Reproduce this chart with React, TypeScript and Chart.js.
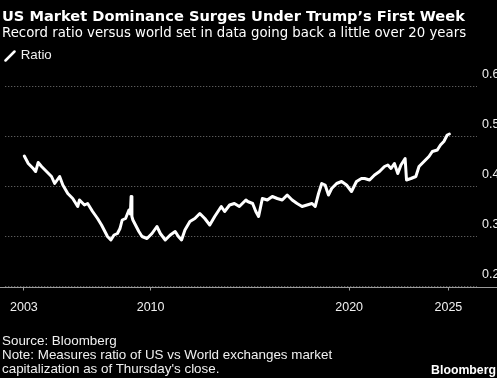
import React, { useEffect, useRef } from "react";
import { Chart, registerables } from "chart.js";

Chart.register(...registerables);

// Decimal-year dates and US/World market-cap ratio
const dates: number[] = [
  2003.64, 2003.84, 2004.09, 2004.21, 2004.34, 2004.51, 2004.76, 2005.01, 2005.17, 2005.42,
  2005.58, 2005.83, 2006.08, 2006.33, 2006.42, 2006.67, 2006.83, 2007.08, 2007.33, 2007.53,
  2007.66, 2007.83, 2008.0, 2008.16, 2008.33, 2008.46, 2008.57, 2008.74, 2008.91, 2008.98,
  2009.02, 2009.06, 2009.11, 2009.24, 2009.41, 2009.57, 2009.82, 2010.07, 2010.32, 2010.49,
  2010.74, 2010.99, 2011.24, 2011.4, 2011.56, 2011.73, 2011.98, 2012.23, 2012.48, 2012.73,
  2012.98, 2013.23, 2013.56, 2013.73, 2013.98, 2014.22, 2014.47, 2014.8, 2014.89, 2015.14,
  2015.3, 2015.44, 2015.63, 2015.88, 2016.13, 2016.38, 2016.63, 2016.88, 2017.13, 2017.38,
  2017.63, 2017.88, 2018.13, 2018.29, 2018.46, 2018.62, 2018.79, 2018.96, 2019.12, 2019.37,
  2019.62, 2019.87, 2020.12, 2020.37, 2020.62, 2020.78, 2021.03, 2021.28, 2021.53, 2021.78,
  2021.95, 2022.11, 2022.28, 2022.45, 2022.61, 2022.82, 2022.89, 2023.11, 2023.36, 2023.52,
  2023.77, 2024.02, 2024.19, 2024.44, 2024.6, 2024.77, 2024.94, 2025.05,
];

const ratio: number[] = [
  0.461, 0.446, 0.436, 0.43, 0.448, 0.44, 0.43, 0.42, 0.406, 0.42,
  0.403, 0.386, 0.376, 0.36, 0.373, 0.363, 0.366, 0.35, 0.336, 0.323,
  0.313, 0.3, 0.293, 0.303, 0.306, 0.316, 0.333, 0.336, 0.353, 0.345,
  0.38, 0.34, 0.333, 0.323, 0.31, 0.3, 0.296, 0.306, 0.32, 0.306,
  0.293, 0.303, 0.31, 0.3, 0.293, 0.313, 0.33, 0.336, 0.346, 0.336,
  0.323, 0.34, 0.36, 0.35, 0.363, 0.366, 0.36, 0.373, 0.37, 0.366,
  0.35, 0.34, 0.376, 0.373, 0.38, 0.376, 0.373, 0.383, 0.373, 0.366,
  0.36, 0.363, 0.366, 0.36, 0.386, 0.406, 0.403, 0.383, 0.396, 0.406,
  0.41, 0.403, 0.39, 0.41, 0.416, 0.416, 0.413, 0.423, 0.43, 0.44,
  0.443, 0.436, 0.446, 0.426, 0.443, 0.456, 0.413, 0.416, 0.42, 0.44,
  0.45, 0.46, 0.47, 0.473, 0.483, 0.49, 0.503, 0.505,
];

const xTickValues: number[] = [2003.62, 2010, 2020, 2025];
const xTickLabels: string[] = ["2003", "2010", "2020", "2025"];
const yTickValues: number[] = [0.2, 0.3, 0.4, 0.5, 0.6];

const TITLE = "US Market Dominance Surges Under Trump\u2019s First Week";
const SUBTITLE = "Record ratio versus world set in data going back a little over 20 years";
const LEGEND = "Ratio";
const SOURCE = "Source: Bloomberg";
const NOTE1 = "Note: Measures ratio of US vs World exchanges market";
const NOTE2 = "capitalization as of Thursday's close.";

const W = 497;
const H = 378;

const baselinePlugin = {
  id: "fullBaseline",
  afterDraw(chart: any) {
    const { ctx } = chart;
    const y = Math.round(chart.scales.y.getPixelForValue(yTickValues[0])) + 0.5;
    ctx.save();
    ctx.strokeStyle = "#9a9a9a";
    ctx.lineWidth = 1;
    ctx.beginPath();
    ctx.moveTo(0, y);
    ctx.lineTo(chart.width, y);
    ctx.stroke();
    ctx.restore();
  },
};

export default function App() {
  const ref = useRef<HTMLCanvasElement | null>(null);

  useEffect(() => {
    document.body.style.margin = "0";
    document.body.style.background = "#000";
    const canvas = ref.current;
    if (!canvas) return;
    const chart = new Chart(canvas, {
      type: "line",
      data: {
        datasets: [
          {
            label: LEGEND,
            data: dates.map((d, i) => ({ x: d, y: ratio[i] })),
            borderColor: "#ffffff",
            borderWidth: 3,
            borderJoinStyle: "round",
            borderCapStyle: "round",
            pointRadius: 0,
            tension: 0,
            fill: false,
          },
        ],
      },
      options: {
        animation: false,
        responsive: false,
        devicePixelRatio: 1,
        layout: { padding: { top: 86.5, left: 0, right: 0, bottom: 0 } },
        plugins: {
          legend: { display: false },
          title: { display: false },
          tooltip: { enabled: false },
        },
        scales: {
          x: {
            type: "linear",
            min: 2002.68,
            max: 2026.44,
            afterFit: (s: any) => {
              s.height = H - 286.5;
            },
            afterBuildTicks: (s: any) => {
              s.ticks = xTickValues.map((v) => ({ value: v }));
            },
            grid: {
              display: true,
              drawOnChartArea: false,
              drawTicks: true,
              tickLength: 4,
              tickColor: "#9a9a9a",
            },
            border: { display: false },
            ticks: {
              autoSkip: false,
              maxRotation: 0,
              padding: 10,
              color: "#f0f0f0",
              font: { family: "'Liberation Sans', Arial, sans-serif", size: 12.5 },
              callback: (_v: any, i: number) => xTickLabels[i],
            },
          },
          y: {
            position: "right",
            min: 0.2,
            max: 0.6,
            afterFit: (s: any) => {
              s.width = 20;
            },
            afterBuildTicks: (s: any) => {
              s.ticks = yTickValues.map((v) => ({ value: v }));
            },
            grid: {
              display: true,
              drawTicks: false,
              tickLength: 0,
              color: "#777777",
              lineWidth: 1,
            },
            border: { display: false, dash: [1, 2] },
            ticks: {
              padding: 5,
              labelOffset: -12,
              color: "#f0f0f0",
              font: { family: "'Liberation Sans', Arial, sans-serif", size: 12.5 },
              callback: (v: any) => Number(v).toFixed(1),
            },
          },
        },
      },
      plugins: [baselinePlugin],
    } as any);
    return () => chart.destroy();
  }, []);

  const common: React.CSSProperties = {
    position: "absolute",
    whiteSpace: "nowrap",
    margin: 0,
    color: "#ffffff",
  };

  return (
    <div
      style={{
        position: "fixed",
        left: 0,
        top: 0,
        width: W,
        height: H,
        background: "#000",
        overflow: "hidden",
      }}
    >
      <canvas
        ref={ref}
        width={W}
        height={H}
        style={{ position: "absolute", left: 0, top: 0, width: W, height: H }}
      />
      <div
        style={{
          ...common,
          left: 2,
          top: 7.2,
          fontFamily: "'DejaVu Sans', sans-serif",
          fontWeight: "bold",
          fontSize: 14.6,
          lineHeight: "17px",
        }}
      >
        {TITLE}
      </div>
      <div
        style={{
          ...common,
          left: 2,
          top: 25.1,
          fontFamily: "'DejaVu Sans', sans-serif",
          fontSize: 13.3,
          lineHeight: "16px",
        }}
      >
        {SUBTITLE}
      </div>
      <svg
        width={12}
        height={12}
        style={{ position: "absolute", left: 4, top: 50 }}
      >
        <line x1={1.5} y1={10.5} x2={10.5} y2={1.5} stroke="#fff" strokeWidth={2.5} strokeLinecap="round" />
      </svg>
      <div
        style={{
          ...common,
          left: 20.7,
          top: 47.4,
          fontFamily: "'Liberation Sans', Arial, sans-serif",
          fontSize: 13.3,
          lineHeight: "16px",
          color: "#f0f0f0",
        }}
      >
        {LEGEND}
      </div>
      <div
        style={{
          ...common,
          left: 2,
          top: 333.9,
          fontFamily: "'Liberation Sans', Arial, sans-serif",
          fontSize: 13.4,
          lineHeight: "14.3px",
          color: "#f0f0f0",
        }}
      >
        <div>{SOURCE}</div>
        <div>{NOTE1}</div>
        <div>{NOTE2}</div>
      </div>
      <div
        style={{
          ...common,
          right: 1,
          top: 363,
          fontFamily: "'Liberation Sans', Arial, sans-serif",
          fontWeight: "bold",
          fontSize: 12.3,
          lineHeight: "14px",
        }}
      >
        Bloomberg
      </div>
    </div>
  );
}
